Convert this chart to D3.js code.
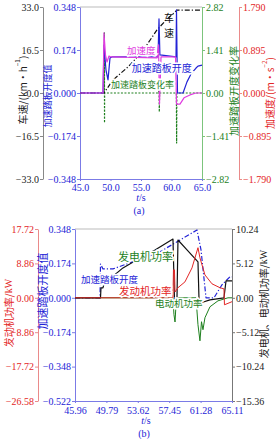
<!DOCTYPE html>
<html>
<head>
<meta charset="utf-8">
<script src="https://cdn.jsdelivr.net/npm/d3@7"></script>
<style>
  body { margin: 0; background: #fff; }
  svg { display: block; }
</style>
</head>
<body>
<script>
// ---- (a) data ----
const speedT = [45, 48.93, 50.41, 52.87, 55.16, 57.62, 59.1, 60.9, 65];
const speedV = [0, 0, 5.0, 10.0, 15.7, 24.2, 28.0, 31.8, 31.8];

const pedalAT = [45, 48.77, 48.93, 49.26, 49.59, 49.92, 50.25, 57.79, 57.95, 58.1, 60.74, 60.82, 60.98, 61.89, 62.54, 63.2, 64.02, 64.34, 65];
const pedalAV = [0, 0, 0.194, 0.093, 0.053, 0.142, 0.146, 0.146, 0.30, 0.154, 0.146, 0.336, 0, 0, 0.045, 0.077, 0.101, 0.109, 0.113];

const accT = [45, 48.77, 48.93, 49.18, 49.43, 49.75, 50.08, 57.62, 57.87, 58.03, 58.28, 60.66, 60.82, 61.39, 62.05, 63.03, 64.02, 65];
const accV = [0, 0, 1.25, 0.79, 0.645, 0.77, 0.75, 0.73, 1.0, -0.23, 0.75, 0.75, -0.23, -0.23, -0.10, -0.04, 0, 0];

const rateT = [45, 48.98, 49.0, 49.02, 49.04, 57.9, 57.95, 58.0, 58.05, 60.8, 60.84, 60.88, 65];
const rateV = [0, 0, 1.97, -0.98, 0, 0, 0.43, -0.62, 0, 0, -1.64, 0, 0];

const speedTicks = [-33, -16.5, 0, 16.5, 33];
const pedalATicks = [-0.348, -0.174, 0, 0.174, 0.348];
const rateTicks = [-2.82, -1.41, 0, 1.41, 2.82];
const accTicks = [-1.79, -0.895, 0, 0.895, 1.79];
const timeATicks = [45, 50, 55, 60, 65];

// ---- (b) data ----
const genT = [45.96, 49.07, 49.13, 49.37, 49.50, 51.81, 53.89, 55.72, 57.91, 58.09, 58.28, 58.40, 58.52, 59.62, 60.96, 61.08, 61.33, 62.42, 64.13, 64.38, 65.11];
const genV = [0, 0, 1.48, 1.48, 2.08, 4.45, 5.93, 7.12, 8.75, 0, -0.9, 0, 8.6, 7.12, 5.34, 0, -0.74, -0.3, 0, 2.52, 2.52];

const motorT = [45.96, 57.91, 58.03, 58.16, 58.28, 58.40, 60.72, 60.96, 61.20, 61.39, 61.57, 61.81, 62.42, 63.40, 64.62, 65.11];
const motorV = [0, 0, -2.5, -3.6, -1.0, 0, 0, -4.0, -6.4, -3.56, -4.75, -2.97, -1.34, -0.45, 0, 0];

const engT = [45.96, 57.91, 57.97, 58.09, 58.16, 58.52, 59.37, 60.23, 60.96, 61.20, 61.81, 62.67, 63.64, 64.13, 64.19, 65.11];
const engV = [0, 0, 7.2, 7.2, 1.5, 2.6, 4.1, 7.7, 12.9, 10.3, 5.9, 3.6, 2.6, 2.3, -1.8, -1.0];

const pedalBT = [45.96, 49.01, 49.07, 49.37, 50.59, 52.67, 56.08, 58.15, 60.84, 61.33, 61.94, 62.91, 63.89, 64.86, 65.11];
const pedalBV = [0, 0, 0.171, 0.146, 0.146, 0.177, 0.227, 0.277, 0.343, 0.242, 0, 0, 0.066, 0.106, 0.106];

const engTicks = [-26.58, -17.72, -8.86, 0, 8.86, 17.72];
const pedalBTicks = [-0.522, -0.348, -0.174, 0, 0.174, 0.348];
const genTicks = [-15.36, -10.24, -5.12, 0, 5.12, 10.24];
const timeBTicks = [45.96, 49.79, 53.62, 57.45, 61.28, 65.11];

const serif = "'Liberation Serif', 'Noto Sans CJK SC', serif";
const cjk = "'Noto Sans CJK SC', sans-serif";

const BLUE = "#2323d6", BLUE_L = "#7b7be6";
const GREEN = "#1d7f1d", GREEN_L = "#7cc47c";
const RED = "#e32626", RED_L = "#ea8a8a";
const MAG = "#e03ce0";

const svg = d3.select("body").append("svg")
    .attr("width", 276)
    .attr("height", 439);

function drawAxis(axis, x, y, lineColor, textColor) {
    const g = svg.append("g")
        .attr("transform", `translate(${x},${y})`)
        .call(axis);
    g.select(".domain").attr("stroke", lineColor);
    g.selectAll(".tick line").attr("stroke", lineColor);
    g.selectAll(".tick text")
        .attr("fill", textColor)
        .style("font-family", serif)
        .style("font-size", "10px");
    return g;
}

function drawLine(T, V, xs, ys, color, width, dash) {
    svg.append("path")
        .datum(d3.zip(T, V))
        .attr("d", d3.line().x(d => xs(d[0])).y(d => ys(d[1])))
        .attr("fill", "none")
        .attr("stroke", color)
        .attr("stroke-width", width)
        .attr("stroke-dasharray", dash || null)
        .attr("stroke-linejoin", "round");
}

function label(text, x, y, color, size) {
    svg.append("text")
        .attr("x", x).attr("y", y)
        .attr("fill", color)
        .attr("stroke", "#fff").attr("stroke-width", 3)
        .attr("paint-order", "stroke")
        .style("font-family", cjk)
        .style("font-size", size + "px")
        .text(text);
}

// rotated axis title, parts = [[text, isSup, isSerif], ...]
function vtitle(parts, x, y, color, size) {
    const t = svg.append("text")
        .attr("transform", `translate(${x},${y}) rotate(-90)`)
        .attr("text-anchor", "middle")
        .attr("dominant-baseline", "central")
        .attr("fill", color)
        .style("font-family", cjk)
        .style("font-size", size + "px");
    parts.forEach(p => {
        const s = t.append("tspan").text(p[0]);
        if (p[1]) s.attr("baseline-shift", "super").style("font-size", (size * 0.65) + "px");
        else if (p[2]) s.style("font-family", serif);
    });
}

function xlabel(x, y, tag) {
    const t = svg.append("text")
        .attr("x", x).attr("y", y)
        .attr("text-anchor", "middle")
        .attr("fill", BLUE)
        .style("font-family", serif)
        .style("font-size", "10px");
    t.append("tspan").attr("font-style", "italic").text("t");
    t.append("tspan").text("/s");
    svg.append("text")
        .attr("x", x - 2).attr("y", y + 13)
        .attr("text-anchor", "middle")
        .attr("fill", BLUE)
        .style("font-family", serif)
        .style("font-size", "10px")
        .text(tag);
}

// ================= (a) =================
const xa = d3.scaleLinear().domain([45, 65]).range([80, 202]);
const ySpeed = d3.scaleLinear().domain([-33, 33]).range([179, 7]);
const yPedalA = d3.scaleLinear().domain([-0.348, 0.348]).range([179, 7]);
const yRate = d3.scaleLinear().domain([-2.82, 2.82]).range([179, 7]);
const yAcc = d3.scaleLinear().domain([-1.79, 1.79]).range([179, 7]);

svg.append("line").attr("x1", 80).attr("x2", 202).attr("y1", 7).attr("y2", 7)
    .attr("stroke", "#bbb");

drawAxis(d3.axisLeft(ySpeed).tickValues(speedTicks).tickFormat(d3.format(".1f")).tickSize(3).tickSizeOuter(0).tickPadding(1),
    43, 0, "#888", "#222");
drawAxis(d3.axisLeft(yPedalA).tickValues(pedalATicks).tickFormat(d3.format(".3f")).tickSize(3).tickSizeOuter(0).tickPadding(1),
    80, 0, BLUE_L, BLUE);
drawAxis(d3.axisRight(yRate).tickValues(rateTicks).tickFormat(d3.format(".2f")).tickSize(3).tickSizeOuter(0).tickPadding(1),
    202, 0, GREEN_L, GREEN);
drawAxis(d3.axisRight(yAcc).tickValues(accTicks).tickFormat(d3.format(".3f")).tickSize(3).tickSizeOuter(0).tickPadding(1),
    239, 0, RED_L, RED);
drawAxis(d3.axisBottom(xa).tickValues(timeATicks).tickFormat(d3.format(".1f")).tickSize(2).tickSizeOuter(0).tickPadding(3),
    0, 179, BLUE_L, BLUE);

drawLine(rateT, rateV, xa, yRate, GREEN, 1.2, "2,1.5");
drawLine(speedT, speedV, xa, ySpeed, "#111", 1.2, "5,2,1.2,2");
drawLine(pedalAT, pedalAV, xa, yPedalA, BLUE, 1.2);
drawLine(accT, accV, xa, yAcc, MAG, 1.2);

label("加速度", xa(52.7), yAcc(0.81), MAG, 9.5);
label("加速踏板开度", xa(53.5), yPedalA(0.085), BLUE, 10);
label("加速踏板变化率", xa(50.1), yRate(0.16), GREEN, 9);
svg.append("text")
    .attr("x", xa(59.6)).attr("y", ySpeed(27.2))
    .attr("text-anchor", "middle")
    .attr("fill", "#111")
    .style("font-family", cjk).style("font-size", "10px")
    .selectAll("tspan").data(["车", "速"]).join("tspan")
    .attr("x", xa(59.6)).attr("dy", (d, i) => i ? "1.5em" : 0)
    .text(d => d);

vtitle([["车速/(km·h"], ["−1", true], [")"]], 22, 90, "#222", 10);
vtitle([["加速踏板开度值"]], 47, 96, BLUE, 9);
vtitle([["加速踏板开度变化率"]], 233, 91, GREEN, 10);
vtitle([["加速度/(m·s"], ["−2", true], [")"]], 269, 93, RED, 10);

xlabel(141, 201, "(a)");

// ================= (b) =================
const xb = d3.scaleLinear().domain([45.96, 65.11]).range([75, 232]);
const yEng = d3.scaleLinear().domain([-26.58, 17.72]).range([401, 229]);
const yPedalB = d3.scaleLinear().domain([-0.522, 0.348]).range([401, 229]);
const yGen = d3.scaleLinear().domain([-15.36, 10.24]).range([401, 229]);

svg.append("line").attr("x1", 75).attr("x2", 232).attr("y1", 229).attr("y2", 229)
    .attr("stroke", "#bbb");

drawAxis(d3.axisLeft(yEng).tickValues(engTicks).tickFormat(d3.format(".2f")).tickSize(3).tickSizeOuter(0).tickPadding(1),
    38, 0, RED_L, RED);
drawAxis(d3.axisLeft(yPedalB).tickValues(pedalBTicks).tickFormat(d3.format(".3f")).tickSize(3).tickSizeOuter(0).tickPadding(1),
    75, 0, BLUE_L, BLUE);
drawAxis(d3.axisRight(yGen).tickValues(genTicks).tickFormat(d3.format(".2f")).tickSize(3).tickSizeOuter(0).tickPadding(1),
    232, 0, "#777", "#222");
drawAxis(d3.axisBottom(xb).tickValues(timeBTicks).tickFormat(d3.format(".2f")).tickSize(2).tickSizeOuter(0).tickPadding(4),
    0, 401, BLUE_L, BLUE);

drawLine(pedalBT, pedalBV, xb, yPedalB, BLUE, 1.2, "5,2,1.2,2");
drawLine(motorT, motorV, xb, yGen, GREEN, 1);
drawLine(genT, genV, xb, yGen, "#111", 1.2);
drawLine(engT, engV, xb, yEng, RED, 1);

label("加速踏板开度", xb(46.69), yPedalB(0.0756), BLUE, 9.5);
label("发电机功率", xb(51.2), yGen(5.49), GREEN, 11);
label("发动机功率", xb(51.33), yEng(0.77), RED, 10.5);
label("电动机功率", xb(55.72), yGen(-1.34), GREEN, 9.5);

vtitle([["发动机功率/"], ["kW", false, true]], 8, 313, RED, 10);
vtitle([["加速踏板开度值"]], 42, 291, BLUE, 11);
vtitle([["发电机、电动机功率/"], ["kW", false, true]], 263, 304, "#222", 10);

xlabel(146, 424, "(b)");
</script>
</body>
</html>
